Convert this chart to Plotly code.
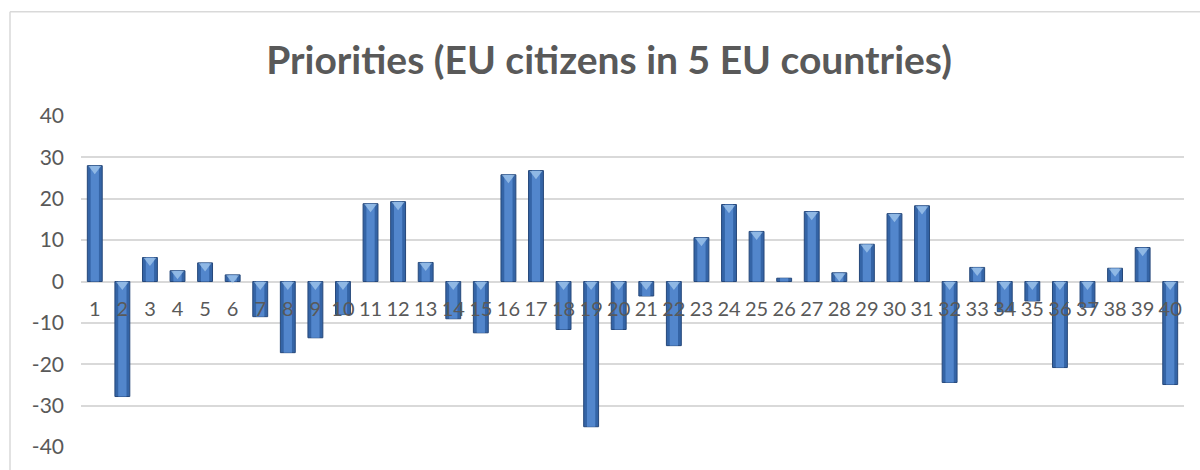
import plotly.graph_objects as go

categories = [str(i) for i in range(1, 41)]
values = [28.0, -27.8, 5.8, 2.6, 4.5, 1.6, -8.5, -17.2, -13.6, -8.0,
          18.8, 19.3, 4.6, -9.0, -12.4, 25.8, 26.8, -11.6, -35.1, -11.6,
          -3.5, -15.5, 10.6, 18.6, 12.1, 0.8, 16.9, 2.1, 9.0, 16.4,
          18.3, -24.4, 3.4, -7.3, -4.7, -20.8, -6.2, 3.2, 8.2, -24.9]
y_ticks = [-40, -30, -20, -10, 0, 10, 20, 30, 40]
y_tick_labels = ["-40", "-30", "-20", "-10", "0", "10", "20", "30", "40"]
title_text = "Priorities (EU citizens in 5 EU countries)"

FONT = "Lato"
GRAY = "#595959"
xs = list(range(1, len(categories) + 1))

fig = go.Figure()
# outer (darker) bar body
fig.add_trace(go.Bar(x=xs, y=values, width=0.54,
                     marker=dict(color="#3464a6", line=dict(color="#26487a", width=1)),
                     hoverinfo="skip"))
# inner lighter band for a bevel look
fig.add_trace(go.Bar(x=xs, y=values, width=0.30,
                     marker=dict(color="#5286cc", line=dict(width=0)),
                     hoverinfo="skip"))
# light triangular highlight at the top edge of each bar (only where the bar is tall enough)
tops = [max(v, 0) for v in values]
tri_sizes = [11 if abs(v) >= 1.5 else 0 for v in values]
fig.add_trace(go.Scatter(x=xs, y=[t - 0.75 for t in tops], mode="markers",
                         marker=dict(symbol="triangle-down", size=tri_sizes, color="#a9cdf0",
                                     line=dict(width=0)),
                         hoverinfo="skip"))
# category labels next to the zero line
fig.add_trace(go.Scatter(x=xs, y=[-7.2] * len(xs), mode="text", text=categories,
                         textfont=dict(family=FONT, size=20, color=GRAY),
                         textposition="middle center", hoverinfo="skip"))

fig.update_layout(
    width=1200, height=470,
    barmode="overlay",
    showlegend=False,
    paper_bgcolor="white", plot_bgcolor="white",
    margin=dict(l=81, r=16, t=116, b=21),
    title=dict(text="<b>" + title_text + "</b>", x=609 / 1200, xanchor="center",
               y=1 - 60 / 470, yanchor="middle", yref="container", xref="container",
               font=dict(family=FONT, size=39, color=GRAY)),
    xaxis=dict(range=[0.5, 40.5], showticklabels=False, showgrid=False,
               zeroline=False, showline=False, ticks=""),
    yaxis=dict(range=[-40, 40], tickvals=y_ticks, ticktext=y_tick_labels,
               showgrid=True, gridcolor="#d9d9d9",
               gridwidth=1.5, zeroline=True, zerolinecolor="#d9d9d9", zerolinewidth=1.5,
               showline=False, ticks="", ticklabelstandoff=16,
               tickfont=dict(family=FONT, size=21, color=GRAY)),
    shapes=[
        dict(type="line", xref="paper", yref="paper", x0=(10 - 81) / 1103, x1=1.2,
             y0=1 + (116 - 11) / 333.6, y1=1 + (116 - 11) / 333.6,
             line=dict(color="#d9d9d9", width=1.5)),
        dict(type="line", xref="paper", yref="paper", x0=(10 - 81) / 1103, x1=(10 - 81) / 1103,
             y0=-0.2, y1=1 + (116 - 11) / 333.6,
             line=dict(color="#d9d9d9", width=1.5)),
    ],
)

fig.write_html("out.html")
